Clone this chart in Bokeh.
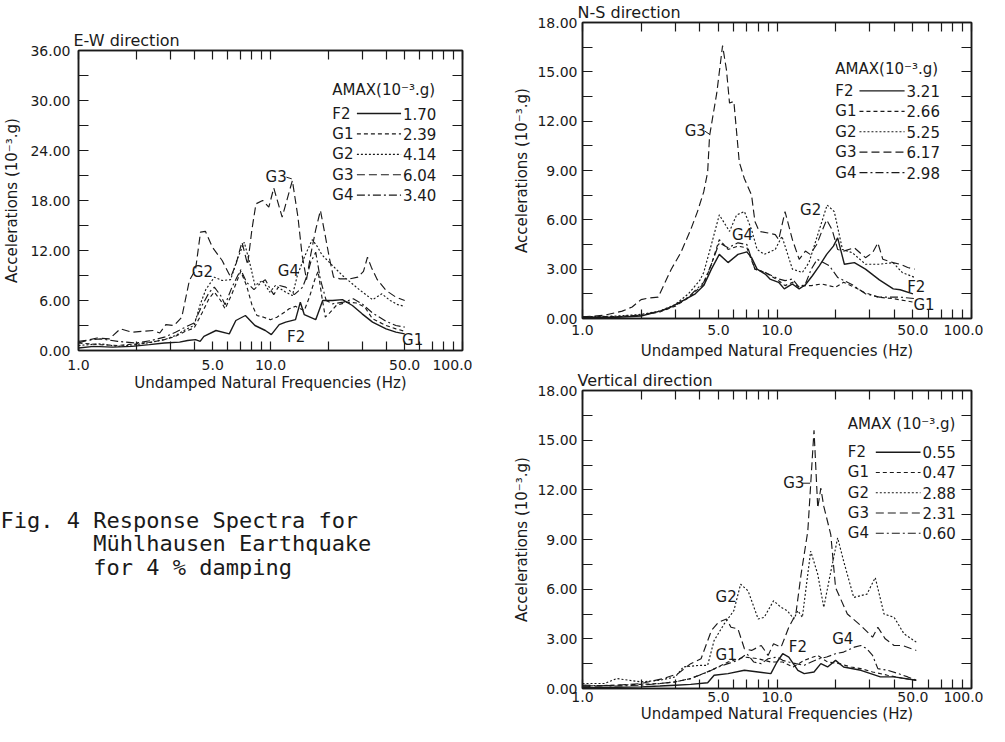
import numpy as np
from bokeh.plotting import figure
from bokeh.models import FixedTicker, LogAxis, LinearAxis, CustomJSTickFormatter, Range1d, Title
from bokeh.layouts import row, column
from bokeh.embed import file_html
from bokeh.resources import INLINE
from bokeh.core.properties import value

FONT = "DejaVu Sans"
MONO = "DejaVu Sans Mono"
INK = "#1a1a1a"

SERIES = ["F2", "G1", "G2", "G3", "G4"]
DASH = {"F2": "solid", "G1": "4 3", "G2": "2 2", "G3": "8 4", "G4": "8 3 2 3"}
LW = {"F2": 1.4, "G1": 1.15, "G2": 1.15, "G3": 1.15, "G4": 1.15}

X_MAJOR = [1, 5, 10, 50, 100]
X_MINOR = [2, 3, 4, 6, 7, 8, 9, 20, 30, 40, 60, 70, 80, 90]

# ---------------- E-W direction ----------------
ew_amax = [1.70, 2.39, 4.14, 6.04, 3.40]
ew_F2_f = [1.0, 1.2, 1.5, 1.9, 2.34, 2.8, 3.36, 3.7, 4.07, 4.3, 4.5, 5.2, 6.1, 6.6, 7.4, 8.3, 9.4, 10.1, 11.1, 12.0,
           13.5, 14.3, 15.0, 17.2, 18.7, 21.0, 23.7, 26.7, 30.0, 34.0, 40.0, 45.0, 50.0]
ew_F2_v = [0.3, 0.5, 0.4, 0.5, 0.7, 0.9, 1.0, 1.2, 1.3, 1.1, 1.7, 2.4, 2.0, 3.6, 4.2, 3.0, 2.4, 1.9, 3.1, 3.4,
           3.7, 5.8, 4.3, 3.7, 6.0, 6.0, 6.1, 5.4, 4.4, 3.4, 2.6, 2.2, 2.0]
ew_G1_f = [1.0, 1.3, 1.6, 2.0, 2.4, 2.8, 3.2, 3.6, 4.0, 4.4, 4.8, 5.1, 5.5, 5.8, 6.3, 7.0, 7.5, 8.0, 8.5, 9.2,
           10.0, 10.8, 11.5, 12.5, 13.5, 14.3, 15.0, 16.0, 17.0, 17.7, 18.5, 19.3, 20.5, 22.0, 25.0, 28.0, 31.0,
           34.0, 40.0, 45.0, 50.0]
ew_G1_v = [0.9, 0.7, 0.6, 0.8, 1.0, 1.3, 1.7, 2.3, 2.7, 4.5, 6.3, 7.0, 6.0, 5.0, 6.8, 9.5, 7.8, 5.5, 4.2, 4.0,
           3.7, 4.0, 4.4, 5.0, 5.3, 5.0, 4.8, 6.5, 8.5, 9.5, 6.5, 4.0, 4.6, 5.4, 5.8, 5.7, 5.2,
           3.8, 3.0, 2.6, 2.3]
ew_G2_f = [1.0, 1.3, 1.6, 2.0, 2.4, 2.8, 3.2, 3.6, 4.0, 4.3, 4.6, 5.1, 5.6, 6.2, 6.7, 7.3, 7.8, 8.3, 9.1, 9.9,
           10.6, 12.0, 13.0, 13.8, 15.0, 16.5, 17.5, 18.5, 20.2, 23.7, 29.0, 34.0, 38.0, 42.0, 46.0, 50.0]
ew_G2_v = [0.6, 0.8, 0.5, 0.7, 1.0, 1.3, 1.8, 2.5, 3.0, 5.5, 7.3, 8.8, 8.4, 8.5, 10.9, 13.0, 10.5, 7.8, 8.4, 7.0,
           7.8, 7.0, 6.6, 9.0, 11.2, 13.3, 12.5, 11.5, 10.6, 9.0, 7.3, 6.1, 6.8, 6.0, 5.5, 5.3]
ew_G3_f = [1.0, 1.1, 1.25, 1.45, 1.65, 1.9, 2.15, 2.45, 2.65, 2.85, 3.15, 3.45, 3.78, 4.07, 4.32, 4.58, 4.98,
           5.6, 6.2, 6.6, 7.1, 7.6, 8.0, 8.4, 9.1, 9.8, 10.4, 11.5, 12.5, 13.0, 13.9, 14.6, 15.4, 16.2, 17.2,
           18.2, 19.2, 20.3, 21.3, 23.0, 26.0, 28.5, 30.5, 32.0, 33.5, 36.0, 40.0, 45.0, 50.0]
ew_G3_v = [0.9, 1.2, 1.5, 1.4, 2.6, 2.2, 2.3, 2.4, 2.1, 3.1, 3.0, 4.0, 8.4, 9.7, 14.2, 14.3, 12.4,
           10.8, 8.8, 10.3, 13.0, 10.3, 14.5, 17.6, 18.0, 17.2, 19.5, 16.0, 19.0, 20.4, 16.0, 11.5, 8.5, 11.5, 14.5,
           16.8, 14.0, 11.0, 8.8, 8.6, 8.6, 8.8, 9.5, 11.2, 10.0, 8.5, 7.2, 6.4, 6.0]
ew_G4_f = [1.0, 1.3, 1.6, 2.0, 2.4, 2.8, 3.2, 3.6, 4.0, 4.4, 4.8, 5.1, 5.5, 5.8, 6.3, 7.0, 7.5, 8.2, 8.8, 9.4,
           10.0, 10.4, 11.1, 12.0, 13.3, 14.7, 15.5, 16.2, 17.2, 18.2, 19.5, 21.0, 24.0, 27.0, 30.0, 34.0, 40.0,
           45.0, 50.0]
ew_G4_v = [1.1, 1.4, 1.1, 0.9, 1.2, 1.6, 2.2, 2.8, 3.3, 5.4, 7.0, 7.6, 6.6, 5.5, 7.6, 9.7, 8.2, 7.3, 8.0, 8.5,
           7.3, 6.7, 7.8, 7.6, 6.7, 7.6, 9.0, 10.6, 11.8, 8.5, 6.0, 5.6, 5.8, 6.2, 5.6, 4.5, 3.5,
           3.0, 2.8]

# ---------------- N-S direction ----------------
ns_amax = [3.21, 2.66, 5.25, 6.17, 2.98]
ns_F2_f = [1.0, 1.5, 2.0, 2.5, 2.75, 3.3, 3.8, 4.2, 4.6, 5.05, 5.6, 6.3, 7.0, 7.4, 7.9, 8.7, 9.2, 10.2, 10.9, 12.0,
           13.0, 14.0, 15.2, 16.5, 18.0, 19.5, 20.5, 22.2, 25.0, 28.5, 33.6, 39.6, 43.0, 50.0]
ns_F2_v = [0.05, 0.08, 0.15, 0.45, 0.6, 1.1, 1.5, 2.0, 3.0, 3.9, 3.4, 3.9, 4.05, 3.7, 3.0, 2.7, 2.4, 2.2, 1.8, 2.1,
           1.8, 2.05, 2.6, 3.2, 3.9, 4.4, 4.9, 3.3, 3.4, 3.0, 2.35, 1.8, 1.75, 1.5]
ns_G1_f = [1.0, 1.5, 2.0, 2.5, 3.0, 3.5, 4.2, 4.6, 5.05, 5.6, 6.3, 7.0, 7.7, 8.7, 10.2, 11.0, 12.0, 13.0, 14.0, 15.0,
           17.0, 20.0, 22.0, 25.0, 28.0, 33.0, 40.0, 50.0]
ns_G1_v = [0.1, 0.12, 0.2, 0.4, 0.75, 1.25, 2.1, 3.3, 4.8, 4.2, 4.4, 4.3, 3.0, 2.8, 2.3, 2.0, 2.2, 1.9, 2.0, 2.0,
           2.1, 1.9, 2.2, 1.9, 1.6, 1.3, 1.2, 1.0]
ns_G2_f = [1.0, 1.5, 2.0, 2.5, 3.0, 3.5, 4.0, 4.2, 4.6, 5.05, 5.7, 6.2, 6.8, 7.4, 7.9, 8.6, 9.8, 10.6, 12.0, 13.5,
           14.6, 16.4, 18.1, 19.7, 21.7, 24.4, 28.5, 33.6, 39.5, 44.0, 51.0]
ns_G2_v = [0.1, 0.15, 0.25, 0.45, 0.85, 1.5, 2.3, 2.8, 4.5, 6.3, 5.3, 6.3, 6.5, 5.4, 4.2, 3.9, 4.2, 5.0, 3.0, 2.8,
           3.4, 5.3, 6.9, 6.5, 4.2, 4.0, 3.3, 3.3, 3.4, 2.8, 2.5]
ns_G3_f = [1.0, 1.3, 1.6, 1.8, 2.0, 2.2, 2.45, 2.86, 3.2, 3.6, 3.9, 4.2, 4.4, 4.5, 4.9, 5.25, 5.5, 5.7, 6.0, 6.4,
           6.8, 7.4, 7.7, 8.1, 9.0, 9.8, 10.2, 11.0, 12.0, 13.0, 14.0, 14.8, 16.0, 17.0, 18.0, 19.2, 20.5, 22.0,
           25.0, 28.5, 31.0, 33.0, 35.0, 39.5, 43.0, 47.0, 51.0]
ns_G3_v = [0.1, 0.2, 0.45, 0.7, 1.15, 1.25, 1.3, 3.0, 4.0, 5.4, 6.5, 7.7, 8.9, 11.1, 13.7, 16.6, 15.1, 13.1, 13.2, 9.5,
           8.5, 7.5, 5.9, 5.3, 5.2, 5.1, 4.8, 6.5, 4.8, 3.6, 4.1, 3.9, 4.5, 5.3, 6.0, 5.4, 4.2, 4.1,
           4.3, 3.7, 4.0, 4.6, 3.6, 3.4, 3.3, 3.1, 3.0]
ns_G4_f = [1.0, 1.5, 2.0, 2.5, 3.0, 3.5, 4.2, 4.6, 5.05, 5.6, 6.3, 7.0, 7.7, 8.7, 10.2, 11.0, 12.0, 13.0, 14.0, 15.0,
           16.1, 18.6, 20.5, 24.4, 28.5, 33.6, 43.0, 52.0]
ns_G4_v = [0.08, 0.1, 0.2, 0.45, 0.8, 1.3, 2.2, 3.3, 4.6, 4.3, 4.6, 4.5, 3.0, 2.8, 2.4, 2.3, 2.4, 1.9, 2.1, 3.0,
           3.6, 3.2, 2.5, 2.05, 1.5, 1.3, 1.3, 1.2]

# ---------------- Vertical direction ----------------
v_amax = [0.55, 0.47, 2.88, 2.31, 0.60]
v_F2_f = [1.0, 1.5, 2.0, 2.5, 3.0, 3.6, 4.4, 4.75, 5.6, 6.8, 8.0, 9.3, 10.0, 10.7, 11.5, 12.8, 13.8, 15.5, 16.8, 18.2,
          20.0, 22.0, 27.0, 34.0, 40.0, 52.0]
v_F2_v = [0.05, 0.08, 0.1, 0.15, 0.2, 0.25, 0.35, 0.8, 0.9, 1.1, 1.0, 0.9, 1.6, 2.1, 1.9, 1.1, 0.9, 1.0, 1.5, 1.3,
          1.7, 1.3, 1.1, 0.7, 0.7, 0.5]
v_G1_f = [1.0, 1.5, 2.0, 2.5, 3.0, 3.6, 4.6, 5.6, 6.8, 8.0, 9.3, 10.7, 12.1, 13.8, 16.2, 18.2, 21.0, 24.0, 27.0, 31.0,
          37.0, 45.0, 52.0]
v_G1_v = [0.15, 0.2, 0.25, 0.3, 0.4, 0.6, 1.1, 1.6, 1.9, 1.8, 1.6, 1.6, 1.3, 1.7, 2.0, 1.6, 1.5, 1.3, 1.2, 1.0,
          0.8, 0.6, 0.5]
v_G2_f = [1.0, 1.3, 1.5, 2.0, 2.5, 3.0, 3.3, 4.0, 4.4, 4.75, 5.35, 6.0, 6.5, 7.1, 8.0, 8.6, 9.6, 10.5, 11.3, 12.2,
          12.8, 13.5, 14.9, 16.2, 17.4, 18.5, 20.5, 22.0, 24.8, 29.0, 32.0, 35.5, 40.0, 45.0, 52.0]
v_G2_v = [0.3, 0.3, 0.6, 0.4, 0.5, 0.7, 1.3, 1.4, 1.4, 2.9, 3.9, 4.7, 6.3, 5.9, 4.2, 4.3, 5.3, 4.9, 4.7, 4.2,
          4.7, 4.3, 8.3, 6.9, 4.9, 6.5, 9.1, 7.7, 5.5, 5.7, 6.7, 4.5, 4.3, 3.3, 2.8]
v_G3_f = [1.0, 1.5, 2.0, 2.6, 3.1, 3.6, 4.07, 4.6, 5.0, 5.5, 5.8, 6.3, 6.8, 7.4, 8.3, 9.0, 9.6, 10.5, 11.5, 12.5,
          13.3, 14.4, 15.5, 16.2, 16.8, 17.4, 18.9, 20.0, 23.0, 27.0, 31.0, 33.0, 36.0, 40.0, 44.0, 52.0]
v_G3_v = [0.1, 0.2, 0.3, 0.6, 0.9, 1.5, 1.8, 3.5, 4.0, 4.2, 3.7, 3.6, 2.4, 2.3, 2.6, 2.0, 2.7, 2.5, 3.7, 4.5,
          6.9, 9.5, 15.6, 10.9, 12.1, 11.0, 9.3, 6.1, 4.5, 3.8, 3.1, 3.7, 3.0, 2.6, 2.6, 2.3]
v_G4_f = [1.0, 1.5, 2.0, 2.5, 3.0, 3.6, 4.4, 5.0, 5.6, 6.3, 7.0, 7.6, 8.3, 9.0, 10.0, 10.7, 11.5, 12.5, 13.8, 15.0,
          16.5, 18.0, 20.0, 22.0, 25.0, 27.0, 29.0, 31.0, 33.0, 37.0, 42.0, 47.0, 52.0]
v_G4_v = [0.2, 0.15, 0.2, 0.3, 0.4, 0.6, 1.0, 1.3, 1.5, 1.7, 2.1, 1.6, 1.5, 1.8, 1.9, 1.7, 1.6, 1.5, 1.4, 1.6,
          1.8, 1.9, 2.1, 2.2, 2.5, 2.6, 2.4, 2.0, 1.2, 1.1, 0.9, 0.7, 0.5]

CAPTION_HEAD = "Fig. 4"
CAPTION_LINES = ["Response Spectra for", "Mühlhausen Earthquake", "for 4 % damping"]


def fx(fr):
    """fraction of the log frame width -> frequency"""
    return 10 ** (fr * 2.0)


def style_axis(ax, tick_len, show_labels, fmt_code, font_size="14px", standoff=5):
    ax.axis_line_color = INK
    ax.axis_line_width = 1.5
    ax.major_tick_line_color = INK
    ax.minor_tick_line_color = INK
    ax.major_tick_line_width = 1.2
    ax.minor_tick_line_width = 1.2
    ax.major_tick_in = tick_len
    ax.major_tick_out = 0
    ax.minor_tick_in = tick_len
    ax.minor_tick_out = 0
    if show_labels:
        ax.formatter = CustomJSTickFormatter(code=fmt_code)
        ax.major_label_text_font = FONT
        ax.major_label_text_font_size = font_size
        ax.major_label_text_color = INK
        ax.major_label_standoff = standoff
    else:
        ax.formatter = CustomJSTickFormatter(code="return '';")
        ax.major_label_text_font_size = "0px"
        ax.major_label_standoff = 0


def make_panel(title, width, height, borders, ymax, ylab_step, data, amax, header, leg, labels, leader,
               xlab_standoff, xtitle_standoff, ylab_standoff, ytitle_standoff):
    bl, br, bt, bb = borders
    p = figure(width=width, height=height, x_axis_type="log", x_range=Range1d(1, 100),
               y_range=Range1d(0, ymax), output_backend="svg", toolbar_location=None,
               min_border_left=bl, min_border_right=br, min_border_top=bt, min_border_bottom=bb,
               background_fill_color="white", border_fill_color="white")
    p.outline_line_color = INK
    p.outline_line_width = 1.5
    p.grid.visible = False

    p.title.text = title
    p.title.align = "left"
    p.title.text_font = FONT
    p.title.text_font_size = "16px"
    p.title.text_font_style = "normal"
    p.title.text_color = INK
    p.title.offset = -5
    p.title.standoff = 1

    yt_major = list(np.arange(0, ymax + 0.001, ylab_step))
    yt_minor = list(np.arange(ylab_step / 2, ymax, ylab_step))
    xtick = FixedTicker(ticks=X_MAJOR, minor_ticks=X_MINOR)
    ytick = FixedTicker(ticks=yt_major, minor_ticks=yt_minor)

    xa = p.xaxis[0]
    xa.ticker = xtick
    style_axis(xa, 9, True, "return tick.toFixed(1);", standoff=xlab_standoff)
    xa.axis_label = "Undamped Natural Frequencies (Hz)"
    xa.axis_label_text_font = FONT
    xa.axis_label_text_font_size = "15px"
    xa.axis_label_text_font_style = "normal"
    xa.axis_label_text_color = INK
    xa.axis_label_standoff = xtitle_standoff

    ya = p.yaxis[0]
    ya.ticker = ytick
    style_axis(ya, 10, True, "return tick.toFixed(2);", standoff=ylab_standoff)
    ya.axis_label = "Accelerations (10\u207b\u00b3.g)"
    ya.axis_label_text_font = FONT
    ya.axis_label_text_font_size = "15px"
    ya.axis_label_text_font_style = "normal"
    ya.axis_label_text_color = INK
    ya.axis_label_standoff = ytitle_standoff

    top = LogAxis(ticker=FixedTicker(ticks=X_MAJOR, minor_ticks=X_MINOR))
    style_axis(top, 9, False, None)
    p.add_layout(top, "above")
    right = LinearAxis(ticker=FixedTicker(ticks=yt_major, minor_ticks=yt_minor))
    style_axis(right, 10, False, None)
    p.add_layout(right, "right")

    for name in SERIES:
        f, v = data[name]
        p.line(f, v, line_color=INK, line_width=LW[name], line_dash=DASH[name])

    # legend block
    x0, xl0, xl1, xv, yh, yr0, ystep = leg
    p.text(x=[fx(x0)], y=[yh * ymax], text=[header], text_font=value(FONT), text_font_size="15px",
           text_color=INK, text_align="left", text_baseline="middle")
    for i, (name, a) in enumerate(zip(SERIES, amax)):
        yy = (yr0 - i * ystep) * ymax
        p.text(x=[fx(x0)], y=[yy], text=[name], text_font=value(FONT), text_font_size="15px",
               text_color=INK, text_align="left", text_baseline="middle")
        p.line([fx(xl0), fx(xl1)], [yy, yy], line_color=INK, line_width=LW[name], line_dash=DASH[name])
        p.text(x=[fx(xv)], y=[yy], text=[f"{a:.2f}"], text_font=value(FONT), text_font_size="15px",
               text_color=INK, text_align="left", text_baseline="middle")

    # curve labels
    lx, ly, lt = labels
    p.text(x=lx, y=ly, text=lt, text_font=value(FONT), text_font_size="15px", text_color=INK,
           text_align="center", text_baseline="middle")
    p.line(leader[0], leader[1], line_color=INK, line_width=1.0)
    return p


ew_data = {"F2": (ew_F2_f, ew_F2_v), "G1": (ew_G1_f, ew_G1_v), "G2": (ew_G2_f, ew_G2_v),
           "G3": (ew_G3_f, ew_G3_v), "G4": (ew_G4_f, ew_G4_v)}
ns_data = {"F2": (ns_F2_f, ns_F2_v), "G1": (ns_G1_f, ns_G1_v), "G2": (ns_G2_f, ns_G2_v),
           "G3": (ns_G3_f, ns_G3_v), "G4": (ns_G4_f, ns_G4_v)}
v_data = {"F2": (v_F2_f, v_F2_v), "G1": (v_G1_f, v_G1_v), "G2": (v_G2_f, v_G2_v),
          "G3": (v_G3_f, v_G3_v), "G4": (v_G4_f, v_G4_v)}

# E-W panel: frame 384 x 300 px; the caption sits in the tall bottom border as a multi-line title
EW_W, EW_H = 472, 726
EW_BORDERS = (78, 10, 50, EW_H - 50 - 300)
ew = make_panel("E-W direction", EW_W, EW_H, EW_BORDERS, 36, 6, ew_data, ew_amax,
                "AMAX(10\u207b\u00b3.g)", (0.661, 0.725, 0.84, 0.845, 0.867, 0.79, 0.068),
                ([10.7, 4.42, 12.4, 13.6, 55.0], [20.8, 9.4, 9.6, 1.6, 1.3], ["G3", "G2", "G4", "F2", "G1"]),
                ([12.1, 12.9], [20.8, 20.6]), 9, 1, 8, 6)

INDENT = "\u00a0" * (len(CAPTION_HEAD) + 1)
caption_text = "\n".join([CAPTION_HEAD + " " + CAPTION_LINES[0]] + [INDENT + t for t in CAPTION_LINES[1:]])
ew.add_layout(Title(text=caption_text, align="left", vertical_align="top", offset=-78, standoff=226,
                    text_font=MONO, text_font_size="22px", text_font_style="normal",
                    text_line_height=0.94, text_color=INK), "below")

ns = make_panel("N-S direction", 511, 365, (110, 12, 20, 47), 18, 3, ns_data, ns_amax,
                "AMAX(10\u207b\u00b3.g)", (0.65, 0.712, 0.828, 0.833, 0.843, 0.769, 0.069),
                ([3.8, 6.65, 14.9, 52.0, 57.0], [11.4, 5.1, 6.6, 1.9, 0.85], ["G3", "G4", "G2", "F2", "G1"]),
                ([4.25, 4.5], [11.4, 11.2]), 6, 4, 5, 3)

vt = make_panel("Vertical direction", 511, 361, (110, 12, 25, 38), 18, 3, v_data, v_amax,
                "AMAX (10\u207b\u00b3.g)", (0.682, 0.754, 0.869, 0.874, 0.887, 0.793, 0.068),
                ([12.2, 5.48, 5.48, 12.8, 21.8], [12.4, 5.5, 2.0, 2.5, 3.0], ["G3", "G2", "G1", "F2", "G4"]),
                ([13.5, 14.8], [12.4, 12.4]), 3, 0, 5, 3)

layout = row(ew, column(ns, vt))
open("out.html", "w").write(file_html(layout, INLINE))
